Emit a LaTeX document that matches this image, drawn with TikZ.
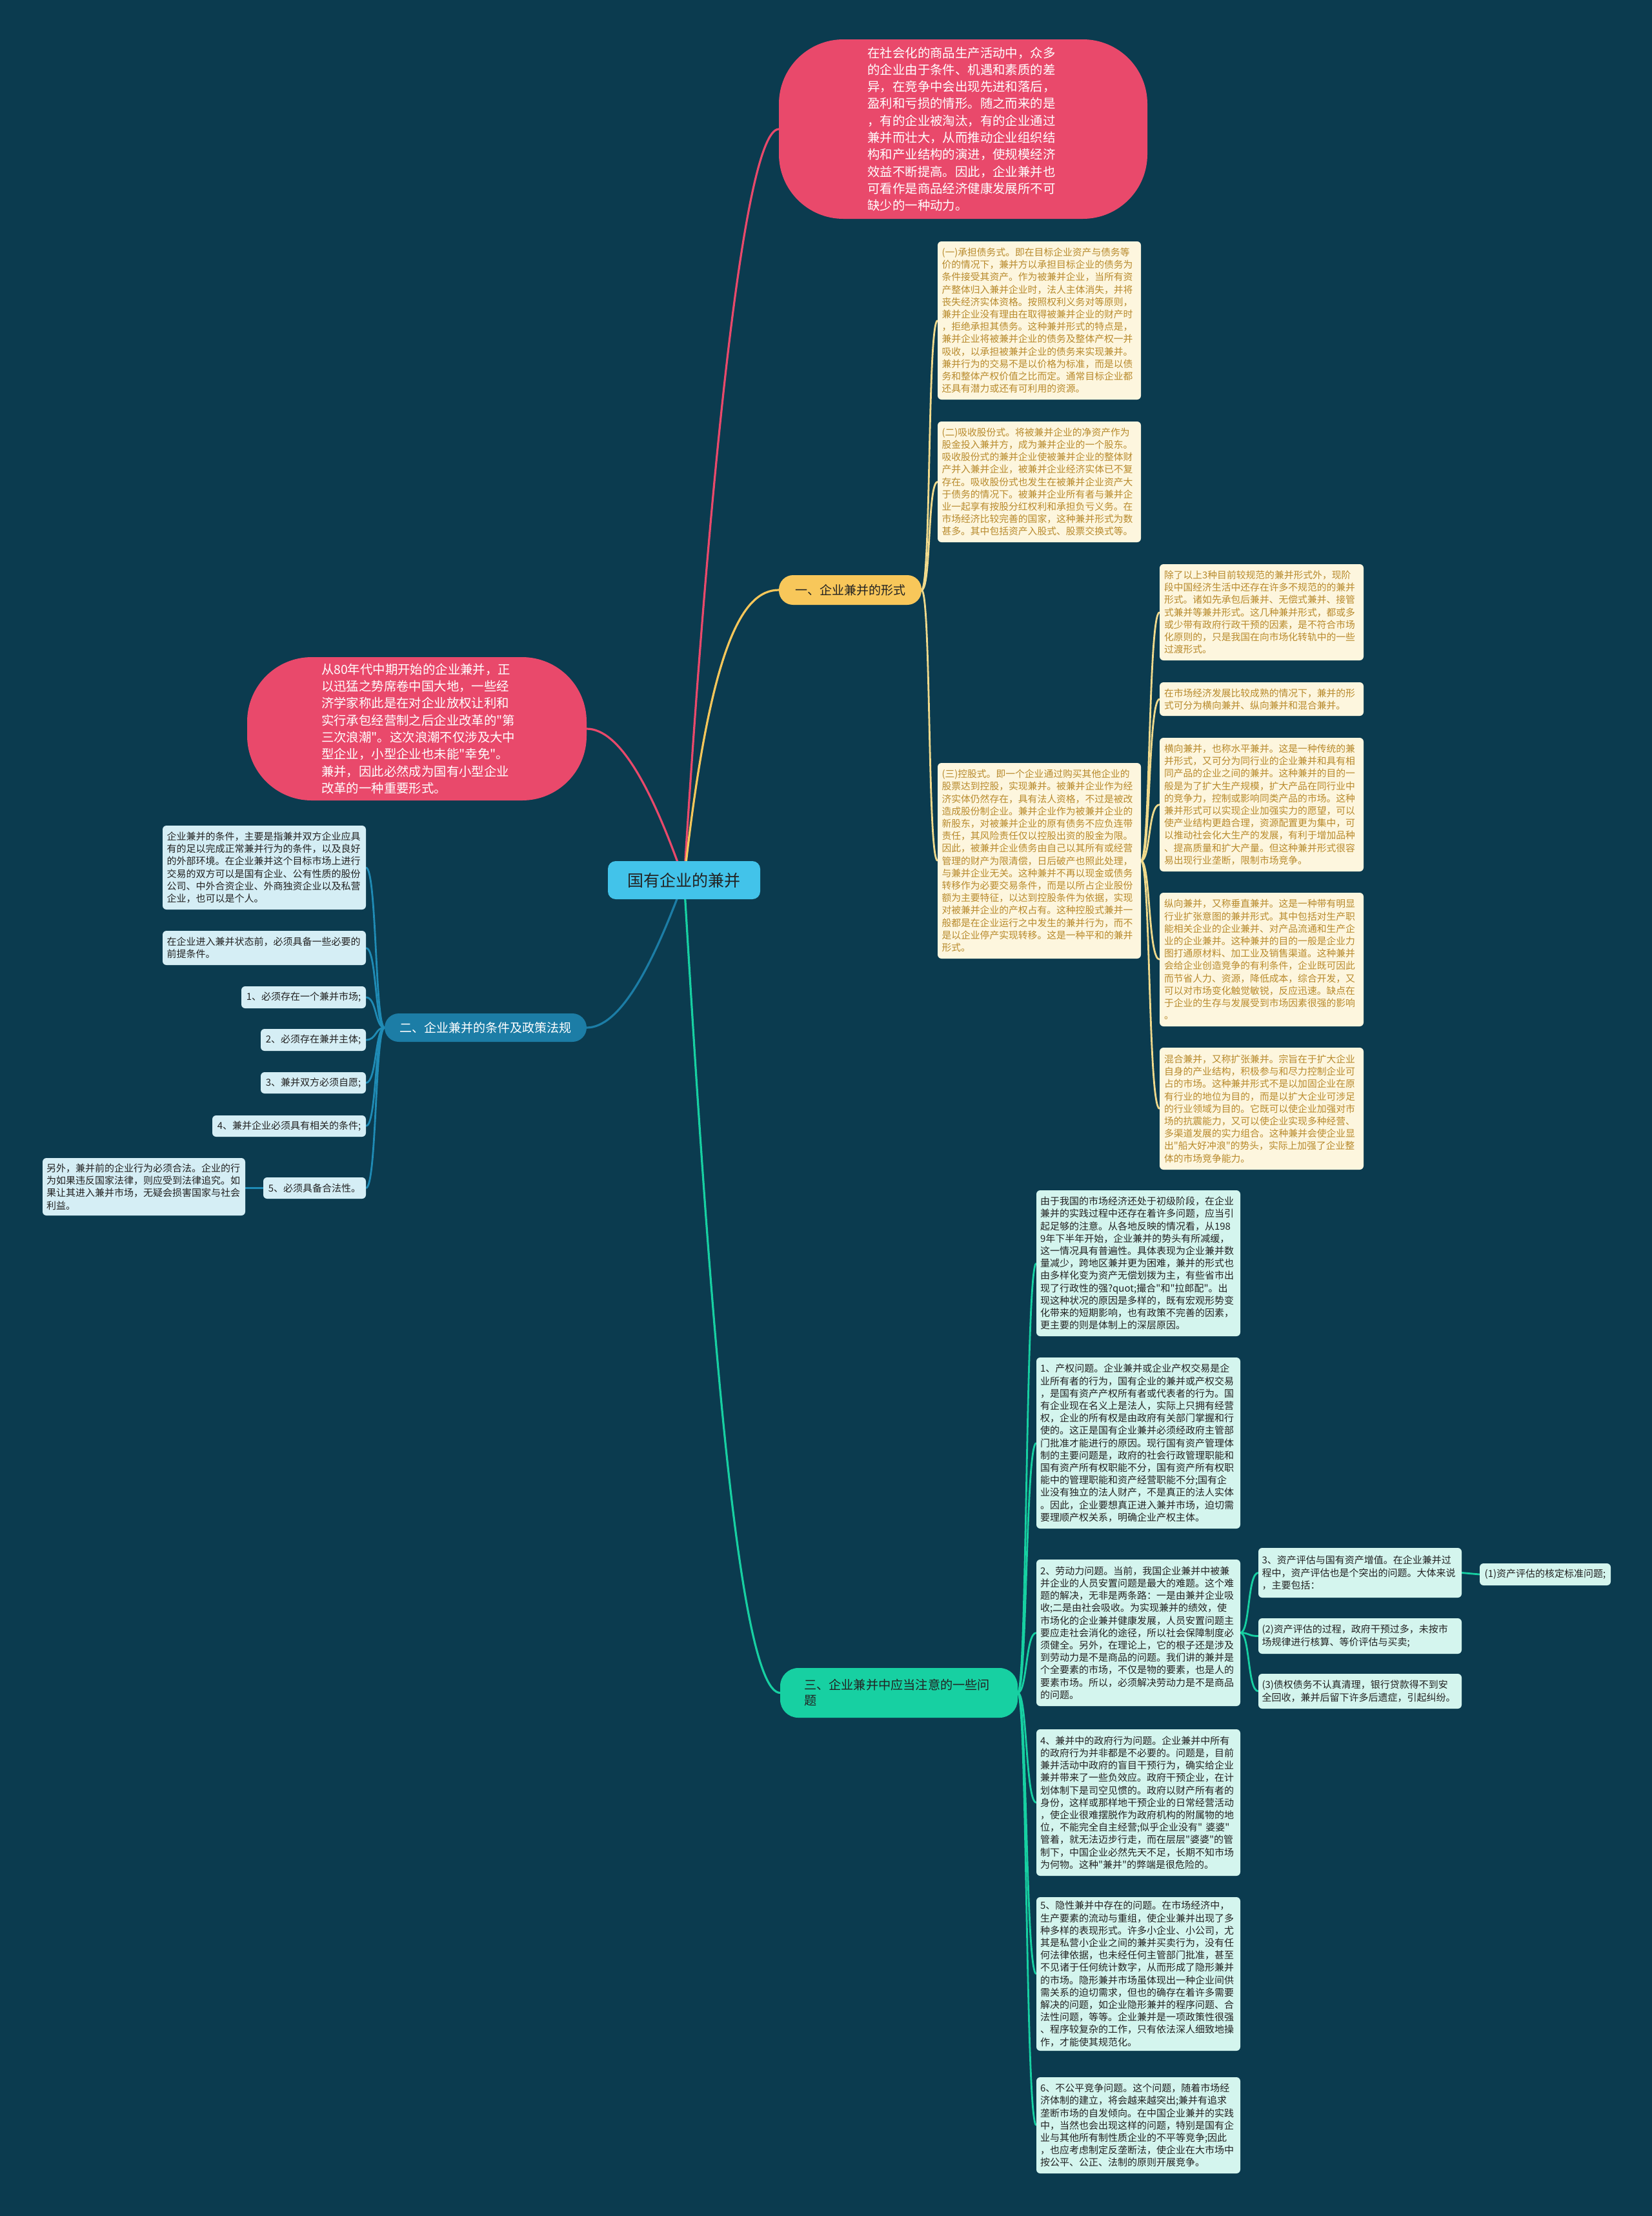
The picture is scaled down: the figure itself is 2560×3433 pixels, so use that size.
\documentclass[tikz,border=0pt]{standalone}
\usepackage{fontspec}
\newfontfamily\cjk{Noto Sans CJK SC}
\definecolor{bgc}{HTML}{0B3B4F}
\definecolor{pinkc}{HTML}{E9496B}
\definecolor{yelc}{HTML}{F8C75A}
\definecolor{yline}{HTML}{F1DA8C}
\definecolor{yboxc}{HTML}{FDF6DE}
\definecolor{ytext}{HTML}{B88A2C}
\definecolor{bluec}{HTML}{1C7DA6}
\definecolor{bline}{HTML}{1F8BB5}
\definecolor{bboxc}{HTML}{D5EEF5}
\definecolor{greenc}{HTML}{17D0A2}
\definecolor{gboxc}{HTML}{D4F5EE}
\definecolor{centc}{HTML}{42C3EA}
\definecolor{dtext}{HTML}{222222}
\pgfdeclarelayer{back}\pgfdeclarelayer{lines}
\pgfsetlayers{back,lines,main}
\newcommand\tbox[7]{\node[#6, minimum width={(#4-#2)*0.5pt}, minimum height={(#5-#3)*0.5pt}] (#1) at ({(#2+#4)/2},{(#3+#5)/2}) {#7};}
\tikzset{
  base/.style={inner sep=0pt, outer sep=0pt, font=\cjk},
  ybx/.style={base, fill=yboxc, rounded corners=3pt, text=ytext, text width=151pt, align=left, font=\cjk\fontsize{7.4}{9.6}\selectfont},
  lbx/.style={base, fill=bboxc, rounded corners=3pt, text=dtext, text width=151pt, align=left, font=\cjk\fontsize{7.5}{9.6}\selectfont},
  lbxs/.style={base, fill=bboxc, rounded corners=3pt, text=dtext, align=center, font=\cjk\fontsize{7.5}{9.6}\selectfont},
  gbx/.style={base, fill=gboxc, rounded corners=3pt, text=dtext, text width=152pt, align=left, font=\cjk\fontsize{7.5}{9.6}\selectfont},
  gbxs/.style={base, fill=gboxc, rounded corners=3pt, text=dtext, align=center, font=\cjk\fontsize{7.5}{9.6}\selectfont},
  bubble/.style={base, fill=pinkc, rounded corners=50pt, text=white, text width=148pt, align=left, font=\cjk\fontsize{9.7}{13.15}\selectfont},
  centre/.style={base, fill=centc, rounded corners=6pt, text=dtext, align=center, font=\cjk\fontsize{12.5}{15}\selectfont},
  br/.style={base, rounded corners=11pt, align=center, font=\cjk\fontsize{9.5}{12}\selectfont},
  yl/.style={yline, line width=1.4pt},
  bl/.style={bline, line width=1.4pt},
  gl/.style={greenc, line width=1.4pt},
}
\begin{document}
\begin{tikzpicture}[x=0.5pt,y=-0.5pt]
\useasboundingbox (0,0) rectangle (2560,3433);
\begin{pgfonlayer}{back}
\fill[bgc] (0,0) rectangle (2560,3433);
\end{pgfonlayer}

% central and branches
\tbox{C}{942}{1334}{1178}{1393}{centre}{国有企业的兼并}
\tbox{T}{1207}{61}{1778}{339}{bubble}{在社会化的商品生产活动中，众多\\的企业由于条件、机遇和素质的差\\异，在竞争中会出现先进和落后，\\盈利和亏损的情形。随之而来的是\\，有的企业被淘汰，有的企业通过\\兼并而壮大，从而推动企业组织结\\构和产业结构的演进，使规模经济\\效益不断提高。因此，企业兼并也\\可看作是商品经济健康发展所不可\\缺少的一种动力。}
\tbox{LB}{383}{1018}{909}{1240}{bubble}{从80年代中期开始的企业兼并，正\\以迅猛之势席卷中国大地，一些经\\济学家称此是在对企业放权让利和\\实行承包经营制之后企业改革的"第\\三次浪潮"。这次浪潮不仅涉及大中\\型企业，小型企业也未能"幸免"。\\兼并，因此必然成为国有小型企业\\改革的一种重要形式。}
\tbox{B1}{1207}{891}{1428}{937}{br, fill=yelc, text=dtext}{一、企业兼并的形式}
\tbox{B2}{596}{1570}{909}{1614}{br, fill=bluec, text=white}{二、企业兼并的条件及政策法规}
\tbox{B3}{1209}{2584}{1577}{2661}{br, rounded corners=14pt, fill=greenc, text=dtext, text width=147pt, align=left, font=\cjk\fontsize{9.6}{12}\selectfont}{三、企业兼并中应当注意的一些问\\题}

% branch 1
\tbox{Y1}{1453}{374}{1768}{619}{ybx}{(一)承担债务式。即在目标企业资产与债务等\\价的情况下，兼并方以承担目标企业的债务为\\条件接受其资产。作为被兼并企业，当所有资\\产整体归入兼并企业时，法人主体消失，并将\\丧失经济实体资格。按照权利义务对等原则，\\兼并企业没有理由在取得被兼并企业的财产时\\，拒绝承担其债务。这种兼并形式的特点是，\\兼并企业将被兼并企业的债务及整体产权一并\\吸收，以承担被兼并企业的债务来实现兼并。\\兼并行为的交易不是以价格为标准，而是以债\\务和整体产权价值之比而定。通常目标企业都\\还具有潜力或还有可利用的资源。}
\tbox{Y2}{1453}{653}{1768}{840}{ybx}{(二)吸收股份式。将被兼并企业的净资产作为\\股金投入兼并方，成为兼并企业的一个股东。\\吸收股份式的兼并企业使被兼并企业的整体财\\产并入兼并企业，被兼并企业经济实体已不复\\存在。吸收股份式也发生在被兼并企业资产大\\于债务的情况下。被兼并企业所有者与兼并企\\业一起享有按股分红权利和承担负亏义务。在\\市场经济比较完善的国家，这种兼并形式为数\\甚多。其中包括资产入股式、股票交换式等。}
\tbox{Y3}{1453}{1182}{1768}{1485}{ybx}{(三)控股式。即一个企业通过购买其他企业的\\股票达到控股，实现兼并。被兼并企业作为经\\济实体仍然存在，具有法人资格，不过是被改\\造成股份制企业。兼并企业作为被兼并企业的\\新股东，对被兼并企业的原有债务不应负连带\\责任，其风险责任仅以控股出资的股金为限。\\因此，被兼并企业债务由自己以其所有或经营\\管理的财产为限清偿，日后破产也照此处理，\\与兼并企业无关。这种兼并不再以现金或债务\\转移作为必要交易条件，而是以所占企业股份\\额为主要特征，以达到控股条件为依据，实现\\对被兼并企业的产权占有。这种控股式兼并一\\般都是在企业运行之中发生的兼并行为，而不\\是以企业停产实现转移。这是一种平和的兼并\\形式。}
\tbox{R1}{1797}{874}{2113}{1023}{ybx}{除了以上3种目前较规范的兼并形式外，现阶\\段中国经济生活中还存在许多不规范的的兼并\\形式。诸如先承包后兼并、无偿式兼并、接管\\式兼并等兼并形式。这几种兼并形式，都或多\\或少带有政府行政干预的因素，是不符合市场\\化原则的，只是我国在向市场化转轨中的一些\\过渡形式。}
\tbox{R2}{1797}{1057}{2113}{1109}{ybx}{在市场经济发展比较成熟的情况下，兼并的形\\式可分为横向兼并、纵向兼并和混合兼并。}
\tbox{R3}{1797}{1143}{2113}{1350}{ybx}{横向兼并，也称水平兼并。这是一种传统的兼\\并形式，又可分为同行业的企业兼并和具有相\\同产品的企业之间的兼并。这种兼并的目的一\\般是为了扩大生产规模，扩大产品在同行业中\\的竞争力，控制或影响同类产品的市场。这种\\兼并形式可以实现企业加强实力的愿望，可以\\使产业结构更趋合理，资源配置更为集中，可\\以推动社会化大生产的发展，有利于增加品种\\、提高质量和扩大产量。但这种兼并形式很容\\易出现行业垄断，限制市场竞争。}
\tbox{R4}{1797}{1383}{2113}{1590}{ybx}{纵向兼并，又称垂直兼并。这是一种带有明显\\行业扩张意图的兼并形式。其中包括对生产职\\能相关企业的企业兼并、对产品流通和生产企\\业的企业兼并。这种兼并的目的一般是企业力\\图打通原材料、加工业及销售渠道。这种兼并\\会给企业创造竞争的有利条件，企业既可因此\\而节省人力、资源，降低成本，综合开发，又\\可以对市场变化触觉敏锐，反应迅速。缺点在\\于企业的生存与发展受到市场因素很强的影响\\。}
\tbox{R5}{1797}{1623}{2113}{1812}{ybx}{混合兼并，又称扩张兼并。宗旨在于扩大企业\\自身的产业结构，积极参与和尽力控制企业可\\占的市场。这种兼并形式不是以加固企业在原\\有行业的地位为目的，而是以扩大企业可涉足\\的行业领域为目的。它既可以使企业加强对市\\场的抗震能力，又可以使企业实现多种经营、\\多渠道发展的实力组合。这种兼并会使企业显\\出"船大好冲浪"的势头，实际上加强了企业整\\体的市场竞争能力。}

% branch 2
\tbox{L1}{252}{1279}{567}{1409}{lbx}{企业兼并的条件，主要是指兼并双方企业应具\\有的足以完成正常兼并行为的条件，以及良好\\的外部环境。在企业兼并这个目标市场上进行\\交易的双方可以是国有企业、公有性质的股份\\公司、中外合资企业、外商独资企业以及私营\\企业，也可以是个人。}
\tbox{L2}{252}{1442}{567}{1495}{lbx}{在企业进入兼并状态前，必须具备一些必要的\\前提条件。}
\tbox{L3}{374}{1528}{567}{1562}{lbxs}{1、必须存在一个兼并市场;}
\tbox{L4}{404}{1594}{567}{1628}{lbxs}{2、必须存在兼并主体;}
\tbox{L5}{404}{1661}{567}{1694}{lbxs}{3、兼并双方必须自愿;}
\tbox{L6}{329}{1728}{567}{1761}{lbxs}{4、兼并企业必须具有相关的条件;}
\tbox{L7}{408}{1824}{567}{1857}{lbxs}{5、必须具备合法性。}
\tbox{L8}{66}{1794}{380}{1883}{lbx}{另外，兼并前的企业行为必须合法。企业的行\\为如果违反国家法律，则应受到法律追究。如\\果让其进入兼并市场，无疑会损害国家与社会\\利益。}

% branch 3
\tbox{G1}{1606}{1844}{1922}{2070}{gbx}{由于我国的市场经济还处于初级阶段，在企业\\兼并的实践过程中还存在着许多问题，应当引\\起足够的注意。从各地反映的情况看，从198\\9年下半年开始，企业兼并的势头有所减缓，\\这一情况具有普遍性。具体表现为企业兼并数\\量减少，跨地区兼并更为困难，兼并的形式也\\由多样化变为资产无偿划拨为主，有些省市出\\现了行政性的强?quot;撮合"和"拉郎配"。出\\现这种状况的原因是多样的，既有宏观形势变\\化带来的短期影响，也有政策不完善的因素，\\更主要的则是体制上的深层原因。}
\tbox{G2}{1606}{2103}{1922}{2368}{gbx}{1、产权问题。企业兼并或企业产权交易是企\\业所有者的行为，国有企业的兼并或产权交易\\，是国有资产产权所有者或代表者的行为。国\\有企业现在名义上是法人，实际上只拥有经营\\权，企业的所有权是由政府有关部门掌握和行\\使的。这正是国有企业兼并必须经政府主管部\\门批准才能进行的原因。现行国有资产管理体\\制的主要问题是，政府的社会行政管理职能和\\国有资产所有权职能不分，国有资产所有权职\\能中的管理职能和资产经营职能不分;国有企\\业没有独立的法人财产，不是真正的法人实体\\。因此，企业要想真正进入兼并市场，迫切需\\要理顺产权关系，明确企业产权主体。}
\tbox{G3}{1606}{2416}{1922}{2643}{gbx}{2、劳动力问题。当前，我国企业兼并中被兼\\并企业的人员安置问题是最大的难题。这个难\\题的解决，无非是两条路：一是由兼并企业吸\\收;二是由社会吸收。为实现兼并的绩效，使\\市场化的企业兼并健康发展，人员安置问题主\\要应走社会消化的途径，所以社会保障制度必\\须健全。另外，在理论上，它的根子还是涉及\\到劳动力是不是商品的问题。我们讲的兼并是\\个全要素的市场，不仅是物的要素，也是人的\\要素市场。所以，必须解决劳动力是不是商品\\的问题。}
\tbox{G3a}{1950}{2398}{2265}{2475}{gbx}{3、资产评估与国有资产增值。在企业兼并过\\程中，资产评估也是个突出的问题。大体来说\\，主要包括：}
\tbox{G3b}{1950}{2507}{2265}{2562}{gbx}{(2)资产评估的过程，政府干预过多，未按市\\场规律进行核算、等价评估与买卖;}
\tbox{G3c}{1950}{2593}{2265}{2647}{gbx}{(3)债权债务不认真清理，银行贷款得不到安\\全回收，兼并后留下许多后遗症，引起纠纷。}
\tbox{G3d}{2293}{2422}{2496}{2456}{gbxs}{(1)资产评估的核定标准问题;}
\tbox{G4}{1606}{2679}{1922}{2906}{gbx}{4、兼并中的政府行为问题。企业兼并中所有\\的政府行为并非都是不必要的。问题是，目前\\兼并活动中政府的盲目干预行为，确实给企业\\兼并带来了一些负效应。政府干预企业，在计\\划体制下是司空见惯的。政府以财产所有者的\\身份，这样或那样地干预企业的日常经营活动\\，使企业很难摆脱作为政府机构的附属物的地\\位，不能完全自主经营;似乎企业没有"~婆婆"\\管着，就无法迈步行走，而在层层"婆婆"的管\\制下，中国企业必然先天不足，长期不知市场\\为何物。这种"兼并"的弊端是很危险的。}
\tbox{G5}{1606}{2939}{1922}{3177}{gbx}{5、隐性兼并中存在的问题。在市场经济中，\\生产要素的流动与重组，使企业兼并出现了多\\种多样的表现形式。许多小企业、小公司，尤\\其是私营小企业之间的兼并买卖行为，没有任\\何法律依据，也未经任何主管部门批准，甚至\\不见诸于任何统计数字，从而形成了隐形兼并\\的市场。隐形兼并市场虽体现出一种企业间供\\需关系的迫切需求，但也的确存在着许多需要\\解决的问题，如企业隐形兼并的程序问题、合\\法性问题，等等。企业兼并是一项政策性很强\\、程序较复杂的工作，只有依法深人细致地操\\作，才能使其规范化。}
\tbox{G6}{1606}{3218}{1922}{3367}{gbx}{6、不公平竞争问题。这个问题，随着市场经\\济体制的建立，将会越来越突出;兼并有追求\\垄断市场的自发倾向。在中国企业兼并的实践\\中，当然也会出现这样的问题，特别是国有企\\业与其他所有制性质企业的不平等竞争;因此\\，也应考虑制定反垄断法，使企业在大市场中\\按公平、公正、法制的原则开展竞争。}

\begin{pgfonlayer}{lines}
% from centre
\draw[pinkc, line width=1.6pt] (C.center) .. controls (1095,800) and (1150,200) .. (T.west);
\draw[yelc, line width=1.6pt] (C.center) .. controls (1100,1000) and (1150,914) .. (B1.west);
\draw[greenc, line width=1.6pt] (C.center) .. controls (1095,1950) and (1140,2622) .. (B3.west);
\draw[pinkc, line width=1.6pt] (C.center) .. controls (1010,1220) and (960,1129) .. (LB.east);
\draw[bluec, line width=1.6pt] (C.center) .. controls (1010,1500) and (960,1592) .. (B2.east);
% branch 1
\draw[yl] (B1.east) .. controls (1443,914) and (1437,496.5) .. (Y1.west);
\draw[yl] (B1.east) .. controls (1443,914) and (1437,746.5) .. (Y2.west);
\draw[yl] (B1.east) .. controls (1443,914) and (1437,1333.5) .. (Y3.west);
\draw[yl] (Y3.east) .. controls (1783,1333.5) and (1779,948.5) .. (R1.west);
\draw[yl] (Y3.east) .. controls (1783,1333.5) and (1779,1083) .. (R2.west);
\draw[yl] (Y3.east) .. controls (1783,1333.5) and (1779,1246.5) .. (R3.west);
\draw[yl] (Y3.east) .. controls (1783,1333.5) and (1779,1486.5) .. (R4.west);
\draw[yl] (Y3.east) .. controls (1783,1333.5) and (1779,1717.5) .. (R5.west);
% branch 2
\draw[bl] (B2.west) .. controls (581,1592) and (584,1344) .. (L1.east);
\draw[bl] (B2.west) .. controls (581,1592) and (584,1468.5) .. (L2.east);
\draw[bl] (B2.west) .. controls (581,1592) and (584,1545) .. (L3.east);
\draw[bl] (B2.west) .. controls (581,1592) and (584,1611) .. (L4.east);
\draw[bl] (B2.west) .. controls (581,1592) and (584,1677.5) .. (L5.east);
\draw[bl] (B2.west) .. controls (581,1592) and (584,1744.5) .. (L6.east);
\draw[bl] (B2.west) .. controls (581,1592) and (584,1840.5) .. (L7.east);
\draw[bl] (L7.west) -- (L8.east |- L7.west);
% branch 3
\draw[gl] (B3.east) .. controls (1592,2622) and (1589,1957) .. (G1.west);
\draw[gl] (B3.east) .. controls (1592,2622) and (1589,2235.5) .. (G2.west);
\draw[gl] (B3.east) .. controls (1592,2622) and (1589,2529.5) .. (G3.west);
\draw[gl] (B3.east) .. controls (1592,2622) and (1589,2792.5) .. (G4.west);
\draw[gl] (B3.east) .. controls (1592,2622) and (1589,3058) .. (G5.west);
\draw[gl] (B3.east) .. controls (1592,2622) and (1589,3292.5) .. (G6.west);
\draw[gl] (G3.east) .. controls (1937,2529.5) and (1933,2436.5) .. (G3a.west);
\draw[gl] (G3.east) .. controls (1937,2529.5) and (1933,2534.5) .. (G3b.west);
\draw[gl] (G3.east) .. controls (1937,2529.5) and (1933,2620) .. (G3c.west);
\draw[gl] (G3a.east) -- (G3d.west);
\end{pgfonlayer}
\end{tikzpicture}
\end{document}
